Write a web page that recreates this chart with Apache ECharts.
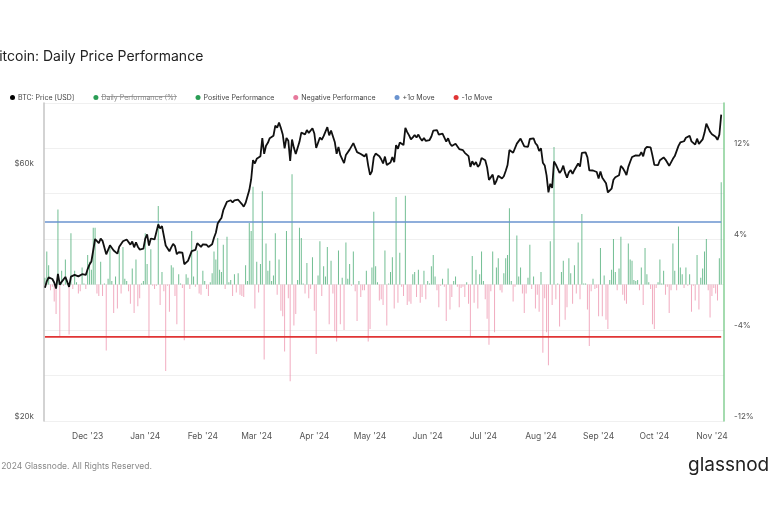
<!DOCTYPE html>
<html>
<head>
<meta charset="utf-8">
<script src="https://cdn.jsdelivr.net/npm/echarts@6/dist/echarts.min.js"></script>
<style>
html,body{margin:0;padding:0;background:#fff;}
#chart{width:768px;height:512px;}
</style>
</head>
<body>
<div id="chart"></div>
<script>
// ---- data (daily, 2023-11-08 .. 2024-11-06) ----
const startDate = '2023-11-08';
const dayCount = 366; // category slots on the x axis (last slot empty)

// BTC price, thousands of USD
const btcPriceK = [
  // Nov '23 (8..30)
  35.66,36.69,37.31,37.14,37.05,36.50,35.54,37.88,36.15,36.60,36.59,37.39,37.48,35.81,37.43,37.29,37.72,37.80,37.48,37.25,37.83,37.86,37.71,
  // Dec '23
  38.69,39.48,39.98,41.98,44.08,43.75,43.29,44.17,43.73,43.78,41.24,41.45,42.89,43.02,41.93,42.24,41.36,42.62,42.27,43.65,43.87,44.00,43.74,43.02,43.61,42.52,43.44,42.63,42.10,42.16,42.27,
  // Jan '24
  44.17,44.96,42.85,44.18,44.16,43.99,43.94,46.97,46.14,46.63,46.37,42.85,42.84,41.80,42.51,43.15,42.74,41.26,41.62,41.67,41.55,39.51,39.85,40.08,39.93,41.82,42.12,42.04,43.29,42.95,42.58,
  // Feb '24
  43.08,43.19,43.00,42.58,42.66,43.08,44.32,45.30,47.15,47.77,48.29,49.96,49.74,51.83,51.94,52.16,51.66,52.12,51.78,52.28,51.84,51.31,50.73,51.57,51.73,54.52,57.09,62.10,61.20,
  // Mar '24
  62.44,62.03,63.17,68.33,63.80,66.11,66.93,68.30,68.50,69.02,72.12,71.48,73.08,71.40,69.40,65.32,68.39,67.55,61.91,67.91,65.49,63.78,64.06,67.23,69.96,69.99,69.46,70.74,69.89,69.65,71.33,
  // Apr '24
  69.70,65.45,65.98,68.51,67.84,68.90,69.36,71.63,69.14,70.59,70.06,67.20,63.82,65.74,63.43,63.81,61.28,63.51,63.84,64.99,64.93,66.84,66.41,64.28,64.48,63.76,63.42,63.11,63.84,60.64,
  // May '24
  58.25,59.12,62.89,63.89,64.03,63.16,62.33,61.19,63.05,60.79,60.79,61.45,62.90,61.55,66.27,65.23,67.05,66.94,66.28,71.45,70.14,69.12,67.93,68.53,69.27,68.52,69.39,68.30,67.58,68.36,67.49,
  // Jun '24
  67.71,67.75,68.80,70.57,71.08,70.76,69.34,69.31,69.65,69.51,67.31,68.26,66.77,66.01,66.19,66.64,66.49,65.14,64.96,64.83,64.10,64.25,63.18,60.28,61.80,60.81,61.60,60.32,60.89,62.68,
  // Jul '24
  62.85,62.03,60.17,56.98,56.66,58.30,55.85,56.71,58.01,57.74,57.34,57.90,59.23,60.79,64.87,65.10,64.12,63.97,66.71,67.16,68.16,67.59,65.93,65.37,65.78,68.06,67.81,68.26,66.82,66.20,64.62,
  // Aug '24
  65.36,61.42,60.68,58.12,53.99,56.03,55.03,61.71,60.88,60.95,58.72,59.35,60.61,58.74,57.56,58.89,59.48,58.48,59.49,59.01,61.18,60.38,64.09,64.18,64.22,62.83,59.42,59.03,59.36,59.12,58.97,
  // Sep '24
  57.30,59.13,57.49,57.97,56.16,53.95,54.14,54.84,57.02,57.65,57.34,58.13,60.57,60.01,59.18,58.19,60.31,61.65,62.94,63.19,63.39,63.65,63.33,64.30,63.14,65.18,65.79,65.89,65.64,63.33,
  // Oct '24
  60.84,60.63,60.76,62.07,62.09,62.82,62.24,62.13,60.58,60.28,62.45,63.19,62.85,66.05,67.04,67.61,67.40,68.42,68.36,69.00,67.37,67.36,66.43,68.16,66.64,67.01,67.93,69.91,72.72,72.34,70.22,
  // Nov '24 (1..6)
  69.48,69.29,68.74,67.81,69.36,75.64
];

// Daily performance, %
const dailyPerf = [
  // Nov '23
  0.6,2.9,1.7,-0.5,-0.2,-1.5,-2.6,6.6,-4.6,1.2,-0.1,2.2,0.2,-4.4,4.5,-0.4,1.2,0.2,-0.8,-0.6,1.5,0.1,-0.4,
  // Dec '23
  2.6,2.0,1.3,5.0,5.0,-0.8,-1.0,2.0,-1.0,0.1,-5.8,0.5,3.5,0.3,-2.5,0.7,-2.1,3.0,-0.8,3.3,0.5,0.3,-0.6,-1.7,1.4,-2.5,2.2,-1.9,-1.2,0.1,0.3,
  // Jan '24
  4.5,1.8,-4.7,3.1,-0.1,-0.4,-0.1,6.9,-1.8,1.1,-0.6,-7.6,-0.1,-2.4,1.7,1.5,-1.0,-3.5,0.9,0.1,-0.3,-4.9,0.9,0.6,-0.4,4.7,0.7,-0.2,3.0,-0.8,-0.9,
  // Feb '24
  1.2,0.3,-0.4,-1.0,0.2,1.0,2.9,2.2,4.1,1.3,1.1,3.5,-0.4,4.2,0.2,0.4,-1.0,0.9,-0.7,1.0,-0.9,-1.0,-1.1,1.7,0.3,5.4,4.7,8.6,-2.1,
  // Mar '24
  2.0,-0.7,1.8,8.2,-6.6,3.6,1.2,2.1,0.3,0.8,4.5,-0.9,2.2,-2.3,-2.8,-5.9,4.7,-1.2,-8.5,9.7,-3.6,-2.6,0.4,5.0,4.1,0.1,-0.8,1.9,-1.2,-0.4,2.4,
  // Apr '24
  -2.3,-6.1,0.8,3.8,-1.0,1.6,0.7,3.3,-3.5,2.1,-0.8,-4.1,-5.0,3.0,-3.5,0.6,-4.0,3.7,0.5,1.8,-0.1,2.9,-0.6,-3.2,0.3,-1.1,-0.5,-0.5,1.2,-5.0,
  // May '24
  -3.9,1.5,6.4,1.6,0.2,-1.4,-1.3,-1.8,3.0,-3.6,0.1,1.1,2.4,-2.1,7.7,-1.6,2.8,-0.2,-1.0,7.8,-1.8,-1.5,-1.7,0.9,1.1,-1.1,1.3,-1.6,-1.1,1.2,-1.3,
  // Jun '24
  0.3,0.1,1.6,2.6,0.7,-0.5,-2.0,-0.1,0.5,-0.2,-3.2,1.4,-2.2,-1.1,0.3,0.7,-0.2,-2.0,-0.3,-0.2,-1.1,0.2,-1.7,-4.6,2.5,-1.6,1.3,-2.1,0.9,2.9,
  // Jul '24
  0.3,-1.3,-3.0,-5.3,-0.6,2.9,-4.2,1.5,2.3,-0.5,-0.7,1.0,2.3,2.6,6.7,0.3,-1.5,-0.2,4.3,0.7,1.5,-0.8,-2.5,-0.8,0.6,3.5,-0.4,0.7,-2.1,-0.9,-2.4,
  // Aug '24
  1.1,-6.0,-1.2,-4.2,-7.1,3.8,-1.8,12.1,-1.3,0.1,-3.7,1.1,2.1,-3.1,-2.0,2.3,1.0,-1.7,1.7,-0.8,3.7,-1.3,6.2,0.1,0.1,-2.2,-5.4,-0.6,0.5,-0.4,-0.3,
  // Sep '24
  -2.8,3.2,-2.8,0.8,-3.1,-3.9,0.4,1.3,4.0,1.1,-0.5,1.4,4.2,-0.9,-1.4,-1.7,3.6,2.2,2.1,0.4,0.3,0.4,-0.5,1.5,-1.8,3.2,0.9,0.2,-0.4,-3.5,
  // Oct '24
  -3.9,-0.3,0.2,2.2,0.1,1.2,-0.9,-0.2,-2.5,-0.5,3.6,1.2,-0.5,5.1,1.5,0.9,-0.3,1.5,-0.1,0.9,-2.4,-0.1,-1.4,2.6,-2.2,0.6,1.4,2.9,4.0,-0.5,-2.9,
  // Nov '24
  -1.0,-0.3,-0.8,-1.4,2.3,9.0
];

const plusSigma = 5.5;   // +1σ move, %
const minusSigma = -4.6; // -1σ move, %

const priceTicksK = [20, 60];          // left axis labels ($k)
const perfTicks = [-12, -4, 4, 12];    // right axis labels (%)
const monthNames = ['Jan','Feb','Mar','Apr','May','Jun','Jul','Aug','Sep','Oct','Nov','Dec'];

// ---- build ----
const categories = [];
{
  const d0 = new Date(startDate + 'T00:00:00Z');
  for (let i = 0; i < dayCount; i++) {
    const d = new Date(d0.getTime() + i * 86400000);
    categories.push(d.toISOString().slice(0, 10));
  }
}
const BASE = priceTicksK[0];
const LOGB = Math.log(priceTicksK[1] / priceTicksK[0]);
const priceData = btcPriceK.map(p => Math.log(p / BASE) / LOGB);
const posData = dailyPerf.map(v => v > 0 ? v : '-');
const negData = dailyPerf.map(v => v < 0 ? v : '-');
const lastIdx = btcPriceK.length - 1;

const chart = echarts.init(document.getElementById('chart'), null, {renderer: 'canvas'});
const FONT = 'Inter, Roboto, sans-serif';

const option = {
  animation: false,
  backgroundColor: '#ffffff',
  textStyle: {fontFamily: FONT},
  legend: {
    left: 5, top: 89,
    icon: 'circle', itemWidth: 5, itemHeight: 5, itemGap: 19,
    formatter: n => n === '+1σ Move' ? '{a|' + n + '}{gap|}' : n,
    textStyle: {
      fontSize: 7, color: '#444', fontFamily: FONT, padding: [0,0,0,-2],
      rich: {a: {fontSize: 7, color: '#444', fontFamily: FONT}, gap: {width: 13}}
    },
    data: [
      {name: 'BTC: Price [USD]', itemStyle: {color: '#000'}},
      {name: 'Daily Performance (%)', itemStyle: {color: '#2a9d55'}, textStyle: {color: '#8a8a8a'}},
      {name: 'Positive Performance', itemStyle: {color: '#2a9d55'}},
      {name: 'Negative Performance', itemStyle: {color: '#e6799c'}},
      {name: '+1σ Move', itemStyle: {color: '#6a93cf'}},
      {name: '-1σ Move', itemStyle: {color: '#e03535'}}
    ]
  },
  grid: {left: 44, right: 44, top: 103, bottom: 91, containLabel: false},
  xAxis: {
    type: 'category',
    data: categories,
    boundaryGap: true,
    axisLine: {show: false},
    axisTick: {show: false},
    splitLine: {show: false},
    axisLabel: {
      interval: (i, v) => v.slice(8) === '01',
      margin: 11,
      fontSize: 8.5, color: '#555', fontFamily: FONT,
      formatter: v => monthNames[+v.slice(5, 7) - 1] + " '" + v.slice(2, 4)
    }
  },
  yAxis: [
    {
      type: 'value',
      position: 'left',
      min: 0, max: 1.257, interval: 1,
      axisLine: {show: true, lineStyle: {color: '#c4c4c4', width: 1.5}},
      axisTick: {show: false},
      splitLine: {show: false},
      axisLabel: {
        margin: 10, fontSize: 8, color: '#555', verticalAlign: 'bottom', showMaxLabel: false,
        formatter: v => '$' + Math.round(BASE * Math.pow(priceTicksK[1] / priceTicksK[0], v)) + 'k'
      }
    },
    {
      type: 'value',
      position: 'right',
      min: -12, max: 15.96, interval: 4,
      axisLine: {show: true, lineStyle: {color: '#86cf94', width: 1.5}},
      axisTick: {show: false},
      splitLine: {show: true, lineStyle: {color: '#f0f0f0', width: 1}},
      axisLabel: {
        margin: 10, fontSize: 8, color: '#555', verticalAlign: 'bottom', showMaxLabel: false,
        formatter: v => perfTicks.indexOf(v) >= 0 ? v + '%' : ''
      }
    }
  ],
  series: [
    {
      name: 'Daily Performance (%)', type: 'bar', yAxisIndex: 1, data: [],
      itemStyle: {color: '#2a9d55'}
    },
    {
      name: 'Positive Performance', type: 'bar', yAxisIndex: 1, data: posData,
      barWidth: 1, barGap: '-100%',
      itemStyle: {color: 'rgba(60,165,105,0.72)'}
    },
    {
      name: 'Negative Performance', type: 'bar', yAxisIndex: 1, data: negData,
      barWidth: 1, barGap: '-100%',
      itemStyle: {color: 'rgba(236,140,168,0.72)'}
    },
    {
      name: '+1σ Move', type: 'line', yAxisIndex: 1, symbol: 'none',
      data: [[categories[0], plusSigma], [categories[lastIdx], plusSigma]],
      lineStyle: {color: '#6a93cf', width: 1.6}, itemStyle: {color: '#6a93cf'}, z: 3
    },
    {
      name: '-1σ Move', type: 'line', yAxisIndex: 1, symbol: 'none',
      data: [[categories[0], minusSigma], [categories[lastIdx], minusSigma]],
      lineStyle: {color: '#e03535', width: 1.6}, itemStyle: {color: '#e03535'}, z: 3
    },
    {
      name: 'BTC: Price [USD]', type: 'line', yAxisIndex: 0, symbol: 'none',
      data: priceData,
      lineStyle: {color: '#111', width: 1.8}, itemStyle: {color: '#000'}, z: 5
    }
  ],
  graphic: [
    {type: 'text', x: -10, y: 50, style: {text: 'Bitcoin: Daily Price Performance', fontSize: 14, fill: '#222', fontFamily: FONT}},
    {type: 'line', shape: {x1: 101, y1: 96.5, x2: 177, y2: 96.5}, style: {stroke: '#8a8a8a', lineWidth: 0.8}},
    {type: 'text', left: -9, top: 462, style: {text: '© 2024 Glassnode. All Rights Reserved.', fontSize: 8.5, fill: '#888', fontFamily: FONT}},
    {type: 'text', left: 688, top: 456, style: {text: 'glassnode', fontSize: 19, fill: '#222', fontFamily: FONT}}
  ]
};
chart.setOption(option);
</script>
</body>
</html>
